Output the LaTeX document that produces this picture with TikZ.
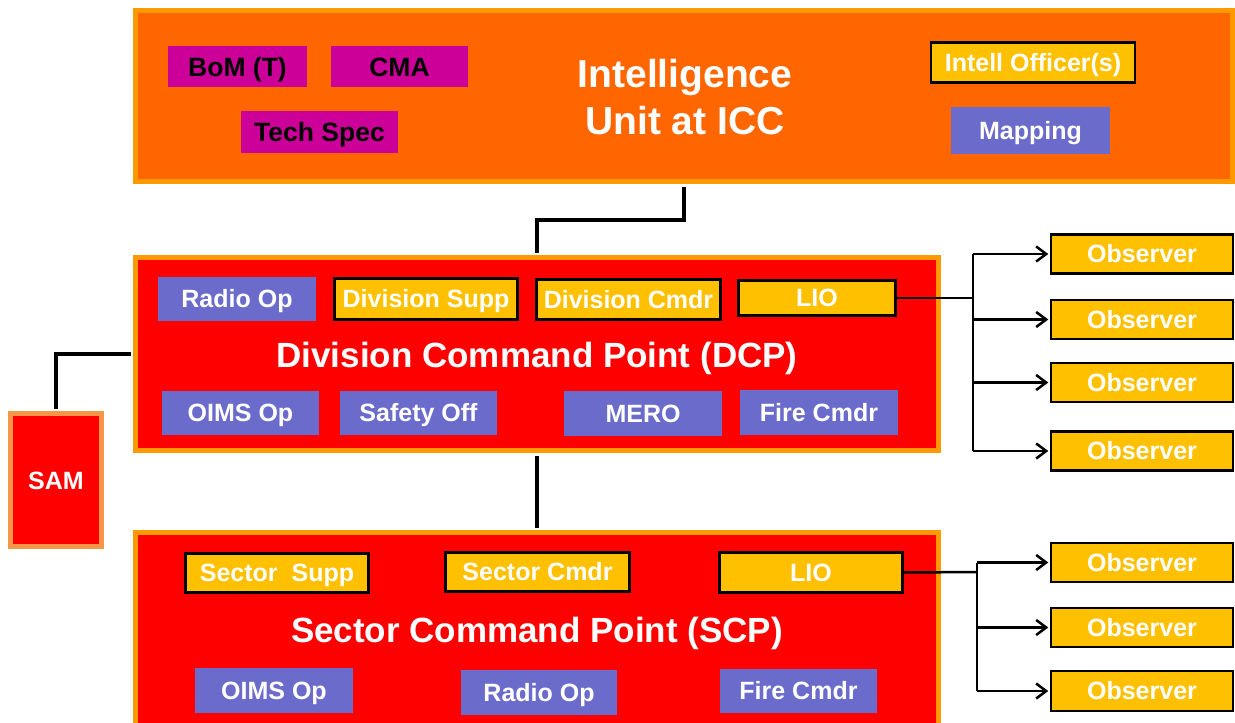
\documentclass[tikz,border=0pt]{standalone}
\usepackage{fontspec}
\setmainfont{Liberation Sans}
\usetikzlibrary{arrows.meta}
\definecolor{iccfill}{HTML}{FF6600}
\definecolor{iccline}{HTML}{FF9900}
\definecolor{cpred}{HTML}{FF0000}
\definecolor{cpline}{HTML}{FF9900}
\definecolor{samline}{HTML}{F79646}
\definecolor{yel}{HTML}{FFC000}
\definecolor{pur}{HTML}{6B6BCC}
\definecolor{mag}{HTML}{CC0099}
\tikzset{
  sz/.style 2 args={minimum width=#1pt, minimum height=#2pt},
  bigbox/.style={rectangle, line width=5pt, inner sep=0pt},
  smallbox/.style={rectangle, inner sep=0pt, text=white, text height=17.9pt, text depth=0pt, font=\fontsize{25}{28}\selectfont\bfseries},
  ybox/.style={smallbox, fill=yel, draw=black, line width=2.5pt},
  pbox/.style={smallbox, fill=pur},
  mbox/.style={smallbox, fill=mag, text=black, text height=19pt, font=\fontsize{26.5}{30}\selectfont\bfseries},
  cptitle/.style={text=white, inner sep=0pt, anchor=base, font=\fontsize{35}{40}\selectfont\bfseries},
  icctitle/.style={text=white, inner sep=0pt, anchor=base, font=\fontsize{39}{46}\selectfont\bfseries},
  link/.style={draw=black, line width=4pt},
  olink/.style={draw=black, line width=2.5pt},
  oarrow/.style={olink, -{Straight Barb[length=10pt,width=15pt,line width=2.5pt]}},
}
\begin{document}
\begin{tikzpicture}[x=1pt,y=-1pt]
\useasboundingbox (0,0) rectangle (1235,723);
\clip (0,0) rectangle (1235,723);

% ICC
\node[bigbox, fill=iccfill, draw=iccline, sz={1097}{171}] (icc) at (684,96) {};
\node[icctitle] (it1) at (685,87) {Intelligence};
\node[icctitle] (it2) at (685,134) {Unit at ICC};
\node[mbox, sz={139}{41}] (bom) at (237.5,66.5) {BoM (T)};
\node[mbox, sz={137}{41}] (cma) at (399.5,66.5) {CMA};
\node[mbox, sz={157}{42}] (tech) at (319.5,132) {Tech Spec};
\node[ybox, sz={204}{40}] (intell) at (1033,62.5) {Intell Officer(s)};
\node[pbox, sz={159}{47}] (map) at (1030.5,130.5) {Mapping};

% DCP
\node[bigbox, fill=cpred, draw=cpline, sz={803}{193}] (dcp) at (537,354) {};
\node[cptitle] (dtitle) at (537,367) {Division Command Point (DCP)};
\node[pbox, sz={158}{44}] (dradio) at (237,299) {Radio Op};
\node[ybox, sz={183}{41}] (dsupp) at (426,299) {Division Supp};
\node[ybox, sz={184}{40}] (dcmdr) at (628.5,299.5) {Division Cmdr};
\node[ybox, sz={157}{35}] (dlio) at (817,298) {LIO};
\node[pbox, sz={157}{44}] (doims) at (240.5,413) {OIMS Op};
\node[pbox, sz={157}{44}] (dsafe) at (418.5,413) {Safety Off};
\node[pbox, sz={158}{45}] (dmero) at (643,413.5) {MERO};
\node[pbox, sz={158}{45}] (dfire) at (819,412.5) {Fire Cmdr};

% SAM
\node[bigbox, fill=cpred, draw=samline, sz={91}{133}] (sam) at (56,480) {};
\node[smallbox] (samt) at (56,481) {SAM};

% SCP
\node[bigbox, fill=cpred, draw=cpline, sz={803}{212.5}] (scp) at (537,638.75) {};
\node[cptitle] (stitle) at (537,642) {Sector Command Point (SCP)};
\node[ybox, sz={183}{39}] (ssupp) at (277,573) {Sector\ \ Supp};
\node[ybox, sz={184}{39}] (scmdr) at (537.5,572) {Sector Cmdr};
\node[ybox, sz={183}{40}] (slio) at (811,572.5) {LIO};
\node[pbox, sz={158}{45}] (soims) at (274,690.5) {OIMS Op};
\node[pbox, sz={156}{45}] (sradio) at (539,692.5) {Radio Op};
\node[pbox, sz={157}{44}] (sfire) at (798.5,691) {Fire Cmdr};

% Observers (DCP)
\node[ybox, sz={182}{39}] (do1) at (1142,254) {Observer};
\node[ybox, sz={182}{39}] (do2) at (1142,319.5) {Observer};
\node[ybox, sz={182}{39}] (do3) at (1142,382.5) {Observer};
\node[ybox, sz={182}{39}] (do4) at (1142,451) {Observer};
% Observers (SCP)
\node[ybox, sz={182}{39}] (so1) at (1142,562.5) {Observer};
\node[ybox, sz={182}{39}] (so2) at (1142,627.5) {Observer};
\node[ybox, sz={182}{40}] (so3) at (1142,691) {Observer};

% hierarchy links
\coordinate (j1) at (684,220);
\draw[link, shorten <=2.5pt, shorten >=2.5pt] (icc.south) -- (j1) -| (dcp.north);
\draw[link, shorten <=2.5pt, shorten >=2.5pt] (dcp.south) -- (scp.north);
\draw[link, shorten <=2.5pt, shorten >=2.5pt] (sam.north) |- (dcp.west);

% observer links (DCP)
\coordinate (dtr) at (973,298);
\draw[olink] (dlio.east) -- (dtr);
\draw[olink] (dtr |- do1.west) -- (dtr |- do4.west);
\foreach \o in {do1,do2,do3,do4}
  \draw[oarrow, shorten >=1.5pt] (dtr |- \o.west) -- (\o.west);

% observer links (SCP)
\coordinate (str) at (977,572);
\draw[olink] (slio.east) -- (str);
\draw[olink] (str |- so1.west) -- (str |- so3.west);
\foreach \o in {so1,so2,so3}
  \draw[oarrow, shorten >=1.5pt] (str |- \o.west) -- (\o.west);
\end{tikzpicture}
\end{document}
